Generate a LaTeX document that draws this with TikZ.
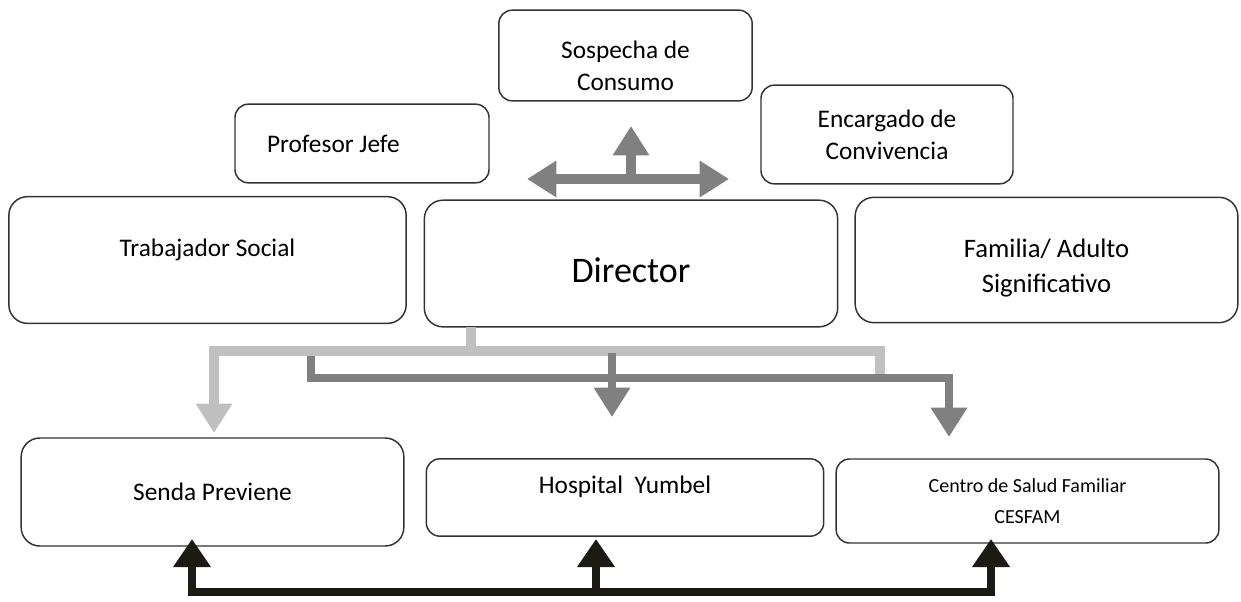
\documentclass[tikz,border=0pt]{standalone}
\usepackage{fontspec}
\setmainfont{Carlito}
\usetikzlibrary{arrows.meta}

\definecolor{boxline}{HTML}{333333}
\definecolor{midgray}{HTML}{808080}
\definecolor{lightgray}{HTML}{C0C0C0}
\definecolor{nearblack}{HTML}{1C1A14}

\tikzset{
  box/.style={draw=boxline, line width=1.1pt, rounded corners=14pt, align=center,
    inner sep=0pt, font=\fontsize{19}{24}\selectfont},
  smallbox/.style={box, rounded corners=10pt},
  midline/.style={draw=midgray, line width=7.5pt},
  lightline/.style={draw=lightgray, line width=7pt},
  darkline/.style={draw=midgray, line width=6pt},
  blackline/.style={draw=nearblack, line width=6pt},
  >={Triangle[length=22pt,width=26pt]}
}

\begin{document}
\begin{tikzpicture}[x=0.75pt, y=-0.75pt]
    \useasboundingbox (0,0) rectangle (1241,601);

    % upper row
    \node[smallbox, minimum width=190pt, minimum height=68pt, text height=52pt] (sosp) at (625.5,55.5) {Sospecha de\\Consumo};
    \node[smallbox, minimum height=59pt, align=flush left, text width=142.5pt, inner xsep=24pt] (prof) at (362,143.5) {Profesor Jefe};
    \node[smallbox, minimum width=189pt, minimum height=74pt] (enc) at (887,134.5) {Encargado de\\Convivencia};

    % middle row
    \node[box, minimum width=298pt, minimum height=95pt, text depth=19pt] (trab) at (207.5,260) {Trabajador Social};
    \node[box, minimum width=310pt, minimum height=95pt, text height=28pt, font=\fontsize{27}{32}\selectfont] (dir) at (631,263.5) {Director};
    \node[box, minimum width=287pt, minimum height=94pt, text height=52pt, font=\fontsize{20}{26}\selectfont] (fam) at (1046.5,260) {Familia/ Adulto\\Significativo};

    % lower row
    \node[box, minimum width=287pt, minimum height=81pt] (senda) at (212.5,492) {Senda Previene};
    \node[smallbox, minimum width=298pt, minimum height=58pt, text depth=19pt] (hosp) at (625,497.5) {Hospital\ \ Yumbel};
    \node[smallbox, minimum width=287pt, minimum height=63pt, font=\fontsize{15}{23}\selectfont] (cesfam) at (1027.5,501) {Centro de Salud Familiar\\CESFAM};

    % junction points
    \coordinate (hl) at (527,179);
    \coordinate (hr) at (729,179);
    \coordinate (hm) at (631,179);
    \coordinate (hu) at (631,126);
    \coordinate (dirout) at (471,327);
    \coordinate (lbus) at (471,351);
    \coordinate (lright) at (880,374);
    \coordinate (lleft) at (214,351);
    \coordinate (tosenda) at (214,433);
    \coordinate (dstart) at (311,356);
    \coordinate (dcorner) at (949,378);
    \coordinate (tocesfam) at (949,437);
    \coordinate (dmid) at (612,353);
    \coordinate (tohosp) at (612,417);
    \coordinate (bleft) at (192,539);
    \coordinate (bright) at (991,539);
    \coordinate (bbus) at (991,592);
    \coordinate (bmid) at (596,592);
    \coordinate (bmidtop) at (596,539);

    % arrows
    \draw[midline, <->] (hl) -- (hr);
    \draw[midline, ->] (hm) -- (hu);
    \draw[lightline] (dirout) -- (lbus);
    \draw[lightline, ->] (lright) |- (lleft) -- (tosenda);
    \draw[darkline, ->] (dstart) |- (dcorner) -- (tocesfam);
    \draw[darkline, ->] (dmid) -- (tohosp);
    \draw[blackline, <->, >={Triangle[length=21pt,width=27pt]}] (bleft) |- (bbus) -- (bright);
    \draw[blackline, ->, >={Triangle[length=21pt,width=27pt]}] (bmid) -- (bmidtop);
\end{tikzpicture}
\end{document}
